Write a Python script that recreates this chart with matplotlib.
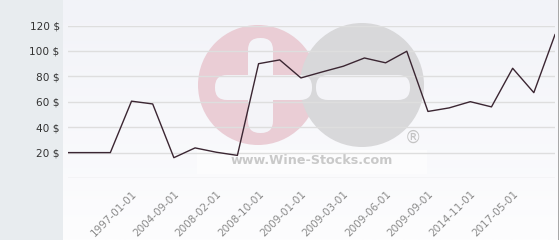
import numpy as np
import matplotlib
matplotlib.use('Agg')
import matplotlib.pyplot as plt
import matplotlib.transforms as mtrans
from matplotlib.patches import Circle, Rectangle, FancyBboxPatch

# datos (precio en $ por punto)
precios = [20, 20, 20, 60.5, 58.3, 16, 23.7, 20.3, 17.8, 90, 93,
           78.8, 83.5, 88, 94.5, 90.7, 99.8, 52.4, 55.2, 60.1, 56,
           86.4, 67.2, 112.9]
fechas_idx = [3, 5, 7, 9, 11, 13, 15, 17, 19, 21]
fechas = ['1997-01-01', '2004-09-01', '2008-02-01', '2008-10-01',
          '2009-01-01', '2009-03-01', '2009-06-01', '2009-09-01',
          '2014-11-01', '2017-05-01']
y_ticks = [0, 20, 40, 60, 80, 100, 120]
y_labels = ['', '20 $', '40 $', '60 $', '80 $', '100 $', '120 $']

fig = plt.figure(figsize=(5.6, 2.4), dpi=100)
fig.patch.set_facecolor('white')

# fondo y marca de agua (coordenadas en pixeles)
bg = fig.add_axes([0, 0, 1, 1], zorder=0)
bg.set_xlim(0, 560)
bg.set_ylim(240, 0)
bg.axis('off')
bg.add_patch(Rectangle((0, 0), 63, 240, color='#e8ecef', lw=0))
grad = np.linspace(0, 1, 100).reshape(-1, 1)
top = np.array([242, 243, 248]) / 255
bot = np.array([253, 253, 254]) / 255
img = top + (bot - top) * grad[..., None]
bg.imshow(img, extent=(63, 557.5, 240, 0), aspect='auto', zorder=1)
bg.add_patch(Rectangle((557.5, 0), 1.8, 240, color='#a8a8a8', lw=0, zorder=2))

bg.add_patch(Rectangle((197, 150), 230, 24, color='white', alpha=0.6, lw=0, zorder=2))
bg.add_patch(Circle((258, 85), 60, color='#eacdd5', lw=0, zorder=3))
bg.add_patch(Circle((362, 85), 62, color='#d8d8da', lw=0, zorder=4))
barra = '#f4f4f8'
bg.add_patch(FancyBboxPatch((248, 38), 25, 95, boxstyle='round,pad=0,rounding_size=12',
                            color=barra, lw=0, zorder=5))
bg.add_patch(FancyBboxPatch((215, 75), 97, 25, boxstyle='round,pad=0,rounding_size=12',
                            color=barra, lw=0, zorder=5))
bg.add_patch(FancyBboxPatch((316, 75), 94, 25, boxstyle='round,pad=0,rounding_size=12',
                            color=barra, lw=0, zorder=5))
bg.text(312, 161, 'www.Wine-Stocks.com', color='#c9c9c9', fontsize=9.2,
        fontweight='bold', ha='center', va='center', zorder=6)
bg.text(413, 138, '®', color='#c4c4c4', fontsize=12, ha='center', va='center', zorder=6)

# grafico principal
ax = fig.add_axes([68 / 560, 62 / 240, 487 / 560, 152.4 / 240], zorder=1)
ax.set_facecolor('none')
x = np.arange(len(precios))
ax.plot(x, precios, color='#3b2632', lw=1, zorder=3)
ax.set_xlim(0, len(precios) - 1)
ax.set_ylim(0, 120)
ax.set_yticks(y_ticks)
ax.set_yticklabels(y_labels, fontsize=7.6, color='#333333')
ax.set_xticks(fechas_idx)
ax.set_xticklabels(fechas, rotation=45, ha='right', va='top', rotation_mode='anchor',
                   fontsize=7.5, color='#8a8a8a')
desplaza = mtrans.ScaledTranslation(-5 / 100, 0, fig.dpi_scale_trans)
for lab in ax.get_xticklabels():
    lab.set_transform(lab.get_transform() + desplaza)
ax.tick_params(axis='both', length=0)
ax.tick_params(axis='y', pad=6)
ax.tick_params(axis='x', pad=8)
ax.grid(axis='y', color='#dedede', lw=1)
ax.grid(axis='x', visible=False)
for s in ax.spines.values():
    s.set_visible(False)

fig.savefig('out.png', dpi=100)
